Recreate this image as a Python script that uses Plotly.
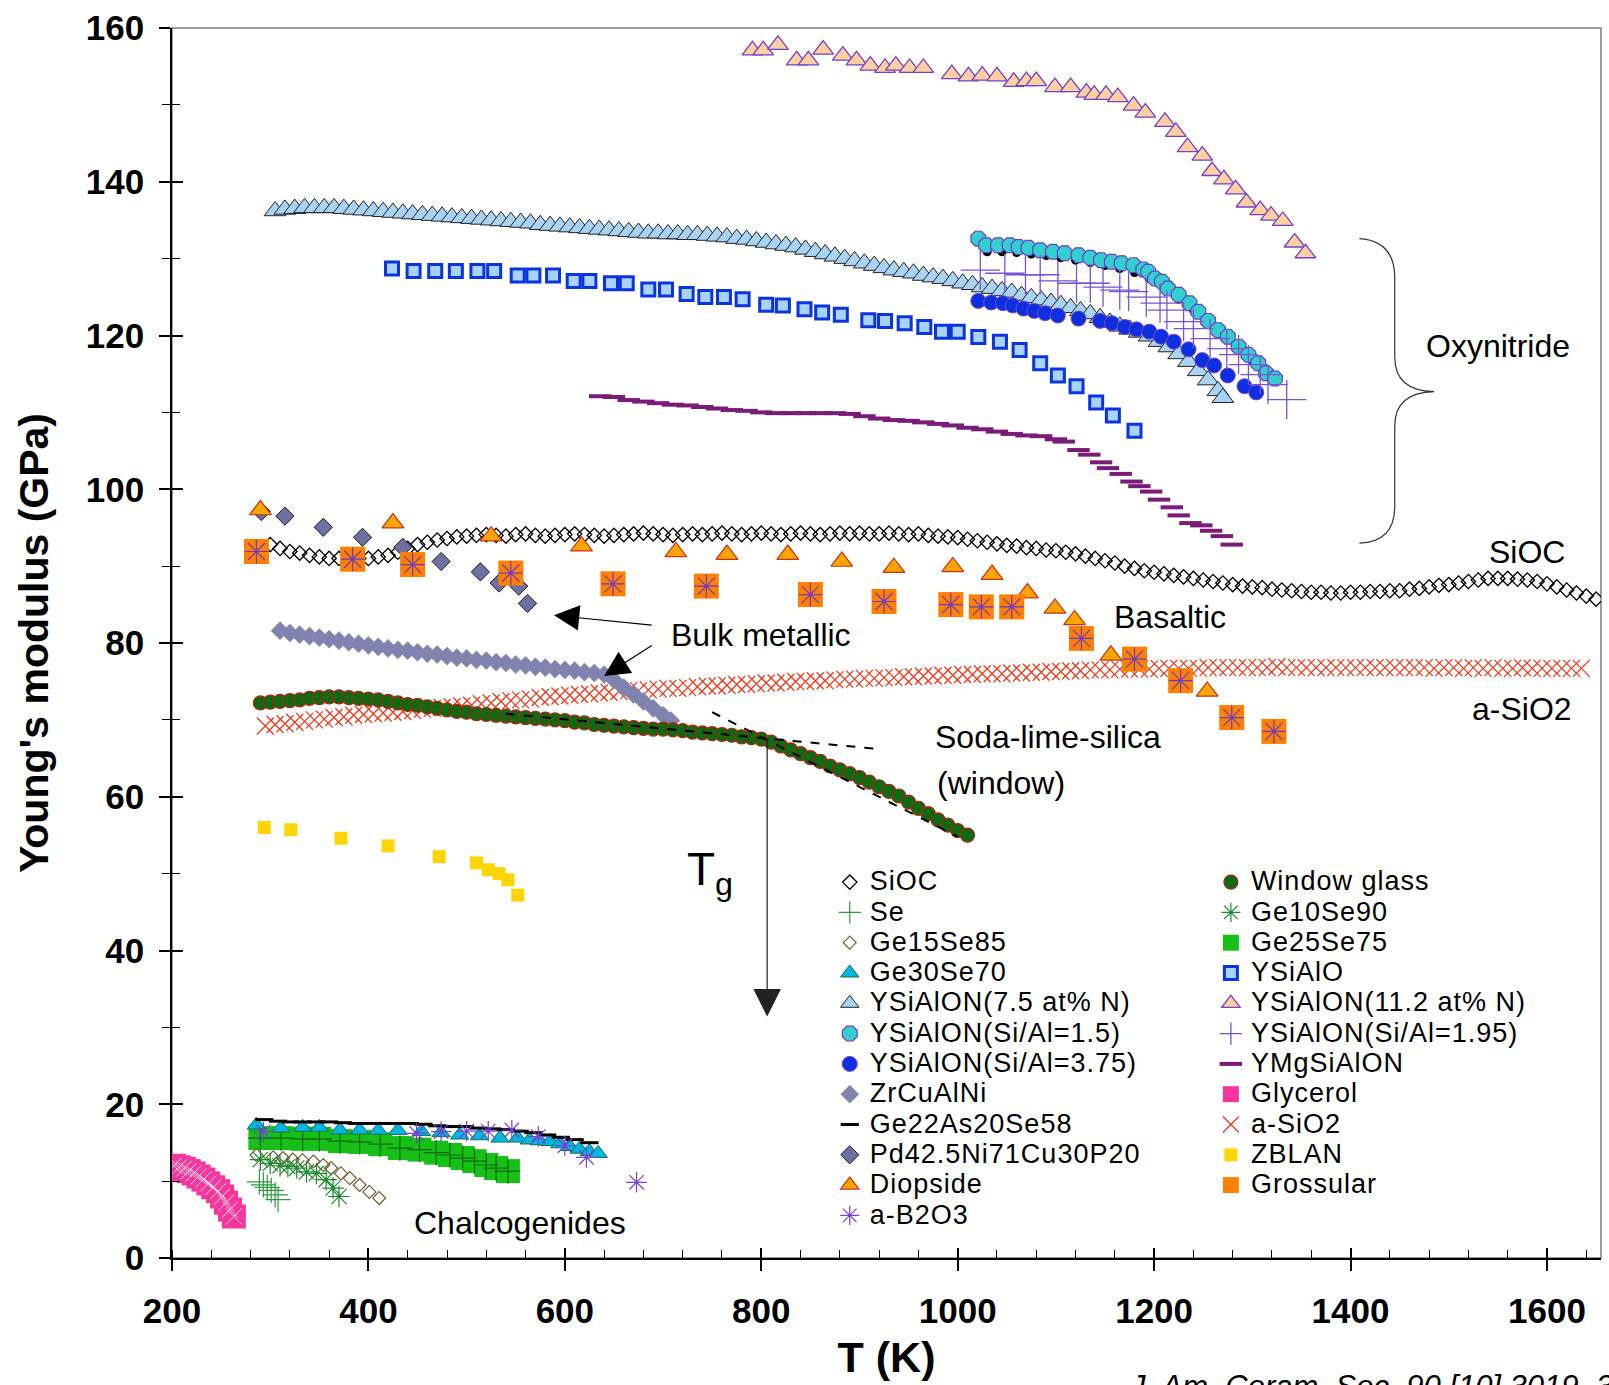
import plotly.graph_objects as go

# ---------------- data (T in K, E in GPa) ----------------
SIOC = [(300,92.8),(310,92.3),(320,91.9),(330,91.7),(340,91.4),(350,91.2),(360,91.0),(370,91.0),(380,90.9),(390,91.0),
        (400,91.0),(410,91.2),(420,91.4),(430,91.8),(440,92.3),(450,92.8),(460,93.1),(470,93.4),(480,93.6),(490,93.8),
        (500,93.9),(510,94.0),(520,94.1),(530,94.0),(540,93.9),(550,94.1),(560,94.2),(570,94.0),(580,93.9),(590,94.0),
        (600,94.1),(610,94.2),(620,94.1),(630,94.0),(640,93.9),(650,94.0),(660,94.1),(670,94.2),(680,94.3),(690,94.2),
        (700,94.1),(710,94.0),(720,94.1),(730,94.2),(740,94.1),(750,94.2),(760,94.3),(770,94.2),(780,94.1),(790,94.2),
        (800,94.3),(810,94.2),(820,94.1),(830,94.2),(840,94.3),(850,94.2),(860,94.1),(870,94.2),(880,94.3),(890,94.2),
        (900,94.3),(910,94.2),(920,94.2),(930,94.3),(940,94.2),(950,94.1),(960,94.2),(970,94.0),(980,93.9),(990,93.8),
        (1000,93.7),(1010,93.5),(1020,93.3),(1030,93.1),(1040,92.9),(1050,92.7),(1060,92.6),(1070,92.4),(1080,92.3),(1090,92.1),
        (1100,92.0),(1110,91.8),(1120,91.6),(1130,91.3),(1140,91.0),(1150,90.7),(1160,90.4),(1170,90.0),(1180,89.7),(1190,89.4),
        (1200,89.2),(1210,89.0),(1220,88.8),(1230,88.6),(1240,88.4),(1250,88.2),(1260,88.0),(1270,87.8),(1280,87.6),(1290,87.4),
        (1300,87.3),(1310,87.2),(1320,87.0),(1330,86.9),(1340,86.8),(1350,86.7),(1360,86.6),(1370,86.6),(1380,86.5),(1390,86.5),
        (1400,86.6),(1410,86.6),(1420,86.7),(1430,86.7),(1440,86.8),(1450,86.8),(1460,87.0),(1470,87.1),(1480,87.3),(1490,87.5),
        (1500,87.6),(1510,87.8),(1520,88.0),(1530,88.2),(1540,88.4),(1550,88.4),(1560,88.4),(1570,88.3),(1580,88.2),(1590,88.0),
        (1600,87.7),(1610,87.3),(1620,86.9),(1630,86.5),(1640,86.1),(1650,85.7)]

A_SIO2 = [(295,69.2),(305,69.4),(315,69.5),(325,69.7),(335,69.8),(345,70.0),(355,70.1),(365,70.3),(375,70.4),(385,70.6),
          (395,70.7),(405,70.8),(415,70.9),(425,71.0),(435,71.1),(445,71.2),(455,71.4),(465,71.5),(475,71.6),(485,71.7),
          (495,71.8),(505,71.9),(515,72.1),(525,72.2),(535,72.4),(545,72.5),(555,72.6),(565,72.7),(575,72.9),(585,73.0),
          (595,73.1),(605,73.2),(615,73.3),(625,73.4),(635,73.5),(645,73.6),(655,73.7),(665,73.8),(675,73.8),(685,73.9),
          (695,74.0),(705,74.1),(715,74.1),(725,74.2),(735,74.3),(745,74.4),(755,74.4),(765,74.5),(775,74.6),(785,74.6),
          (795,74.7),(805,74.8),(815,74.8),(825,74.9),(835,75.0),(845,75.0),(855,75.1),(865,75.1),(875,75.2),(885,75.3),
          (895,75.3),(905,75.4),(915,75.4),(925,75.5),(935,75.5),(945,75.6),(955,75.6),(965,75.7),(975,75.7),(985,75.8),
          (995,75.8),(1005,75.9),(1015,75.9),(1025,76.0),(1035,76.0),(1045,76.0),(1055,76.1),(1065,76.1),(1075,76.2),(1085,76.2),
          (1095,76.3),(1105,76.3),(1115,76.4),(1125,76.4),(1135,76.5),(1145,76.5),(1155,76.5),(1165,76.6),(1175,76.6),(1185,76.6),
          (1195,76.6),(1205,76.7),(1215,76.7),(1225,76.7),(1235,76.7),(1245,76.7),(1255,76.8),(1265,76.8),(1275,76.8),(1285,76.8),
          (1295,76.8),(1305,76.8),(1315,76.8),(1325,76.9),(1335,76.8),(1345,76.8),(1355,76.8),(1365,76.8),(1375,76.8),(1385,76.8),
          (1395,76.8),(1405,76.8),(1415,76.8),(1425,76.8),(1435,76.8),(1445,76.8),(1455,76.8),(1465,76.8),(1475,76.8),(1485,76.7),
          (1495,76.8),(1505,76.8),(1515,76.7),(1525,76.8),(1535,76.7),(1545,76.8),(1555,76.7),(1565,76.7),(1575,76.8),(1585,76.7),
          (1595,76.7),(1605,76.7),(1615,76.7),(1625,76.7),(1635,76.7)]

WINDOW_GLASS = [(290,72.2),(300,72.3),(310,72.4),(320,72.5),(330,72.6),(340,72.8),(350,72.9),(360,73.0),(370,73.0),(380,72.9),
                (390,72.8),(400,72.7),(410,72.6),(420,72.4),(430,72.2),(440,72.0),(450,71.9),(460,71.7),(470,71.5),(480,71.3),
                (490,71.1),(500,71.0),(510,70.8),(520,70.7),(530,70.6),(540,70.5),(550,70.4),(560,70.3),(570,70.2),(580,70.1),
                (590,70.0),(600,69.9),(610,69.7),(620,69.6),(630,69.4),(640,69.3),(650,69.2),(660,69.1),(670,69.0),(680,68.9),
                (690,68.8),(700,68.8),(710,68.7),(720,68.6),(730,68.4),(740,68.3),(750,68.2),(760,68.1),(770,68.0),(780,67.8),
                (790,67.7),(800,67.5),(810,67.1),(820,66.6),(830,66.1),(840,65.6),(850,65.1),(860,64.6),(870,64.0),(880,63.5),
                (890,63.0),(900,62.5),(910,61.9),(920,61.3),(930,60.7),(940,60.1),(950,59.3),(960,58.5),(970,57.8),(980,57.0),
                (990,56.3),(1000,55.6),(1010,55.0)]

GLASS_LOW_T_TANGENT = [(540,70.8),(920,66.2)]
GLASS_HIGH_T_TANGENT = [(750,71.0),(1000,54.8)]
TG = (806, 67.6, 31.4)

ZRCUALNI = [(310,81.6),(320,81.3),(330,81.1),(340,80.9),(350,80.7),(360,80.5),(370,80.3),(380,80.1),(390,79.9),(400,79.7),
            (410,79.5),(420,79.3),(430,79.1),(440,79.0),(450,78.8),(460,78.6),(470,78.5),(480,78.3),(490,78.1),(500,78.0),
            (510,77.8),(520,77.7),(530,77.5),(540,77.4),(550,77.2),(560,77.1),(570,76.9),(580,76.8),(590,76.6),(600,76.5),
            (610,76.4),(620,76.2),(630,76.1),(640,75.9),(650,75.2),(660,74.2),(670,73.3),(680,72.4),(690,71.5),(700,70.6),(708,69.9)]

PD_GLASS = [(291,97.1),(315,96.5),(354,95.05),(394,93.75),(435,92.45),(474,90.6),(514,89.25),(533,87.8),(553,87.4),(562,85.15)]

DIOPSIDE = [(290,97.3),(425,95.6),(525,93.9),(617,92.6),(713,91.85),(765,91.5),(827,91.5),(882,90.6),(935,89.8),(995,89.9),
            (1035,88.9),(1071,86.5),(1099,84.5),(1119,83.0),(1156,78.4),(1254,73.7)]

GROSSULAR = [(286,91.9),(384,90.9),(445,90.2),(545,89.1),(649,87.7),(744,87.4),(850,86.3),(925,85.4),(993,85.0),(1024,84.7),
             (1055,84.7),(1126,80.6),(1180,77.9),(1227,75.1),(1279,70.3),(1322,68.5)]

ZBLAN = [(294,56.0),(321,55.7),(372,54.6),(420,53.6),(472,52.2),(510,51.4),(522,50.5),(533,50.0),(542,49.2),(552,47.2)]

YSIALON_75N = [(305,136.2),(315,136.4),(325,136.5),(335,136.6),(345,136.6),(355,136.6),(365,136.6),(375,136.5),(385,136.4),(395,136.3),
               (405,136.2),(415,136.1),(425,136.0),(435,135.9),(445,135.8),(455,135.7),(465,135.6),(475,135.5),(485,135.4),(495,135.3),
               (505,135.2),(515,135.1),(525,135.0),(535,134.9),(545,134.8),(555,134.7),(565,134.6),(575,134.4),(585,134.3),(595,134.2),
               (605,134.1),(615,134.0),(625,133.9),(635,133.8),(645,133.7),(655,133.6),(665,133.5),(675,133.4),(685,133.3),(695,133.3),
               (705,133.2),(715,133.2),(725,133.1),(735,133.1),(745,133.0),(755,132.9),(765,132.8),(775,132.6),(785,132.5),(795,132.3),
               (805,132.1),(815,131.9),(825,131.7),(835,131.5),(845,131.2),(855,130.9),(865,130.6),(875,130.3),(885,130.0),(895,129.7),
               (905,129.4),(915,129.1),(925,128.8),(935,128.5),(945,128.3),(955,128.1),(965,127.8),(975,127.6),(985,127.4),(995,127.1),
               (1005,126.8),(1015,126.6),(1025,126.3),(1035,126.1),(1045,125.8),(1055,125.6),(1065,125.2),(1075,124.9),(1085,124.6),(1095,124.3),
               (1105,124.0),(1115,123.6),(1125,123.2),(1135,122.8),(1145,122.3),(1155,121.7),(1165,121.2),(1175,120.8),(1185,120.4),(1195,119.9),
               (1205,119.2),(1215,118.5),(1225,117.6),(1235,116.6),(1245,115.4),(1255,114.2),(1265,112.8),(1270,111.9)]

YSIALO = [(424,128.7),(446,128.4),(468,128.4),(489,128.4),(511,128.4),(528,128.4),(552,127.8),(568,127.8),(588,127.8),(609,127.1),
          (625,127.1),(647,126.8),(663,126.8),(685,126.0),(703,126.0),(724,125.4),(743,125.0),(762,125.0),(781,124.7),(805,124.0),
          (822,123.9),(844,123.4),(862,123.0),(881,122.7),(909,122.0),(926,121.9),(946,121.6),(966,121.1),(984,120.5),(1000,120.5),
          (1021,119.8),(1043,119.2),(1063,118.1),(1084,116.4),(1102,114.8),(1121,113.4),(1141,111.3),(1158,109.6),(1180,107.6)]

YSIALON_112N = [(791,157.1),(802,157.1),(817,157.8),(836,155.8),(848,155.8),(863,157.2),(883,156.4),(897,155.8),(911,155.1),(926,154.8),
                (937,155.1),(951,154.8),(965,154.8),(994,154.0),(1011,153.7),(1025,153.8),(1040,153.7),(1057,153.0),(1070,153.1),(1080,153.1),
                (1099,152.3),(1115,152.3),(1131,151.6),(1139,151.3),(1151,151.3),(1163,151.0),(1179,149.9),(1191,149.0),(1211,147.8),(1222,146.5),
                (1234,144.5),(1249,143.4),(1259,141.4),(1271,140.3),(1283,139.0),(1294,137.3),(1308,136.3),(1319,135.6),(1331,134.9),(1343,132.1),
                (1354,130.7)]

YSIALON_SIAL15 = [(1021,132.6),(1029,131.75),(1041,131.75),(1053,131.75),(1062,131.5),(1072,131.4),(1084,131.1),(1097,130.9),(1109,130.7),(1123,130.45),
                  (1135,130.1),(1146,129.8),(1157,129.6),(1167,129.4),(1179,129.15),(1189,128.6),(1194,128.3),(1201,127.4),(1208,127.0),(1214,126.1),
                  (1225,125.3),(1236,124.2),(1245,123.1),(1255,121.9),(1265,120.7),(1275,119.85),(1286,118.55),(1296,117.5),(1306,116.4),(1314,115.1),
                  (1323,114.4)]

# dark under-layer of points seen beneath the Si/Al=1.5 curve (unlabelled in the legend)
SIAL15_SHADOW = [(1030,130.9),(1045,130.9),(1060,130.8),(1075,130.6),(1090,130.4),(1105,130.1),(1120,129.8),(1135,129.5),(1150,129.1),(1165,128.7),
                 (1180,128.2),(1195,127.4),(1210,126.2),(1225,124.7),(1240,123.3),(1255,121.6),(1270,120.0),(1285,118.4),(1300,116.7),(1315,115.0),
                 (1322,114.0)]

YSIALON_SIAL375 = [(1021,124.5),(1034,124.3),(1046,124.2),(1056,123.9),(1067,123.5),(1078,123.2),(1089,122.9),(1102,122.6),(1123,122.2),(1145,121.9),
                   (1157,121.6),(1170,121.1),(1182,120.8),(1195,120.5),(1207,119.85),(1220,119.2),(1235,118.2),(1249,116.8),(1261,116.1),(1275,114.8),
                   (1292,113.4),(1304,112.6)]

YSIALON_SIAL195 = [(1023,128.5),(1048,128.1),(1069,127.9),(1084,127.9),(1102,127.1),(1121,126.8),(1135,126.8),(1148,126.3),(1165,125.9),(1174,125.7),
                   (1192,125.0),(1206,124.2),(1213,123.3),(1230,121.8),(1240,120.9),(1257,119.6),(1274,118.3),(1286,117.5),(1296,116.2),(1308,114.9),
                   (1316,113.6),(1335,111.65)]

YMGSIALON = [(636,112.1),(650,112.0),(665,111.6),(680,111.4),(695,111.2),(710,111.0),(725,110.9),(740,110.7),(755,110.5),(770,110.3),
             (785,110.2),(800,110.0),(815,109.9),(830,109.9),(845,109.9),(860,109.9),(875,109.9),(890,109.8),(905,109.5),(920,109.2),
             (935,109.0),(950,108.9),(965,108.7),(980,108.5),(995,108.3),(1010,108.0),(1025,107.8),(1040,107.5),(1055,107.2),(1070,107.0),
             (1085,106.9),(1100,106.5),(1108,106.2),(1123,105.1),(1134,104.5),(1146,103.5),(1153,102.75),(1166,102.0),(1177,101.0),(1185,100.4),
             (1197,99.7),(1205,98.65),(1218,97.65),(1225,96.6),(1237,95.6),(1248,95.3),(1258,94.6),(1269,93.9),(1279,92.8)]

SE = [(289,9.9),(293,9.5),(297,9.2),(301,8.8),(305,8.2),(308,7.6)]
GE10SE90 = [(290,12.8),(300,12.3),(310,12.0),(318,11.9),(327,11.7),(337,11.2),(347,11.0),(357,10.2),(364,9.1),(370,8.0)]
GE15SE85 = [(286,13.4),(303,13.1),(313,13.0),(323,12.8),(333,12.7),(344,12.55),(354,12.1),(362,11.7),(372,11.0),(381,10.4),
            (391,9.5),(401,8.6),(411,7.8)]
GE25SE75 = [(290,15.6),(311,15.6),(333,15.5),(350,15.5),(371,15.2),(391,15.1),(412,14.8),(432,14.3),(452,14.1),(469,13.7),
            (483,13.4),(496,13.0),(508,12.6),(520,12.1),(530,11.7),(542,11.3)]
GE30SE70 = [(286,17.3),(311,16.9),(333,17.0),(350,17.0),(371,16.65),(391,16.65),(410,16.6),(430,16.6),(454,16.45),(474,16.3),
            (493,16.0),(513,15.9),(534,15.6),(552,15.6),(564,15.35),(574,15.25),(585,15.15),(595,14.85),(605,14.5),(615,14.15),
            (625,13.85),(634,13.6)]
GE22AS20SE58 = [(294,18.0),(308,17.8),(320,17.7),(333,17.7),(347,17.7),(360,17.7),(374,17.6),(388,17.5),(401,17.5),(415,17.5),
                (428,17.5),(442,17.5),(456,17.4),(470,17.2),(484,17.1),(498,17.1),(512,16.9),(526,16.8),(540,16.7),(554,16.5),
                (568,16.3),(582,16.0),(596,15.7),(610,15.4),(625,15.0)]
A_B2O3 = [(293,16.4),(449,16.2),(474,16.45),(500,16.5),(522,16.5),(546,16.65),(573,15.8),(600,14.6),(622,13.1),(673,9.85)]
GLYCEROL = [(202,12.0),(207,11.8),(212,11.6),(217,11.3),(222,11.0),(227,10.6),(232,10.2),(237,9.7),(242,9.2),(247,8.7),
            (251,8.0),(255,7.2),(259,6.3),(263,5.4)]

X_TICKS = [200, 400, 600, 800, 1000, 1200, 1400, 1600]
Y_TICKS = [0, 20, 40, 60, 80, 100, 120, 140, 160]

# ---------------- figure ----------------
FONT = "Liberation Sans, Arial, sans-serif"
fig = go.Figure()


def xs(d):
    return [p[0] for p in d]


def ys(d):
    return [p[1] for p in d]


def lname(s):
    return '<span style="font-size:27px;letter-spacing:1px">' + s + '</span>'


def add(data, name, symbol, size, fill, line_color=None, line_width=1.0,
        legend=None, rank=1000, showlegend=True):
    lc = line_color if line_color is not None else fill
    fig.add_trace(go.Scatter(
        x=xs(data), y=ys(data), mode="markers",
        name=lname(name) if showlegend else name,
        showlegend=showlegend, legend=legend or "legend", legendrank=rank,
        marker=dict(symbol=symbol, size=size, color=fill,
                    line=dict(color=lc, width=line_width)),
        hoverinfo="x+y+name"))


# bottom-most layers
add(A_SIO2, "a-SiO2", "x-thin-open", 17, "#ee3a1c", line_width=1.3, legend="legend2", rank=9)
add(SIOC, "SiOC", "diamond-open", 11, "#000000", line_width=1.3, legend="legend", rank=1)
add(ZRCUALNI, "ZrCuAlNi", "diamond", 14, "#7f83ad", line_color="#8c8fb5", line_width=0.5, legend="legend", rank=8)
add(WINDOW_GLASS, "Window glass", "circle", 14, "#0b6a12", line_color="#b4200e", line_width=1.2, legend="legend2", rank=1)

for seg in (GLASS_LOW_T_TANGENT, GLASS_HIGH_T_TANGENT):
    fig.add_trace(go.Scatter(x=xs(seg), y=ys(seg), mode="lines", showlegend=False,
                             line=dict(color="black", width=2, dash="dash"), hoverinfo="skip"))

add(PD_GLASS, "Pd42.5Ni71Cu30P20", "diamond", 14, "#6d70a0", line_color="#1a1a2a", line_width=1, legend="legend", rank=10)
add(DIOPSIDE, "Diopside", "triangle-up", 19, "#ffa500", line_color="#c8321e", line_width=1.2, legend="legend", rank=11)
add(GROSSULAR, "Grossular", "square", 25, "#ff7f00", line_color="#ff7f00", line_width=0, legend="legend2", rank=11)
add(GROSSULAR, "Grossular star", "asterisk-open", 20, "#6a3cc8", line_width=1.2, showlegend=False)
add(ZBLAN, "ZBLAN", "square", 13, "#ffd400", line_width=0, legend="legend2", rank=10)

add(YMGSIALON, "YMgSiAlON", "line-ew-open", 16, "#7b1b78", line_width=4, legend="legend2", rank=7)
add(YSIALON_75N, "YSiAlON(7.5 at% N)", "triangle-up", 19, "#a9d3f5", line_color="#222222", line_width=1, legend="legend", rank=5)
add(YSIALO, "YSiAlO", "square", 13, "#a8d2ff", line_color="#0a34e0", line_width=3, legend="legend2", rank=4)
add(YSIALON_SIAL375, "YSiAlON(Si/Al=3.75)", "circle", 15, "#0c2fe0", line_color="#7a46c8", line_width=1, legend="legend", rank=7)
add(SIAL15_SHADOW, "black points", "circle", 9, "#000000", line_width=0, showlegend=False)
add(YSIALON_SIAL15, "YSiAlON(Si/Al=1.5)", "octagon", 16, "#33cfcf", line_color="#6a3cc8", line_width=1.2, legend="legend", rank=6)
add(YSIALON_SIAL195, "YSiAlON(Si/Al=1.95)", "cross-thin-open", 28, "#7b52d0", line_width=1.3, legend="legend2", rank=6)
add(YSIALON_112N, "YSiAlON(11.2 at% N)", "triangle-up", 18, "#ffcf9f", line_color="#7240cc", line_width=1.3, legend="legend2", rank=5)

add(GE25SE75, "Ge25Se75", "square", 24, "#17c017", line_width=0, legend="legend2", rank=3)
add(GE25SE75, "Ge25Se75 cross", "cross-thin-open", 18, "#0b6a0b", line_width=1.2, showlegend=False)
add(GE15SE85, "Ge15Se85", "diamond-open", 10, "#6e6030", line_width=1.2, legend="legend", rank=3)
add(GE10SE90, "Ge10Se90", "asterisk-open", 18, "#1d8a2e", line_width=1.2, legend="legend2", rank=2)
add(SE, "Se", "cross-thin-open", 18, "#2f9a3f", line_width=1.2, legend="legend", rank=2)
add(GE30SE70, "Ge30Se70", "triangle-up", 16, "#00b6e2", line_color="#15704a", line_width=1, legend="legend", rank=4)
add(GE22AS20SE58, "Ge22As20Se58", "line-ew-open", 13, "#000000", line_width=3, legend="legend", rank=9)
add(A_B2O3, "a-B2O3", "asterisk-open", 17, "#7b3fd8", line_width=1.2, legend="legend", rank=12)
add(GLYCEROL, "Glycerol", "square", 24, "#f7369d", line_width=0, legend="legend2", rank=8)
add(GLYCEROL, "Glycerol x", "x-thin-open", 16, "#ffd6e8", line_width=1, showlegend=False)

# overlay axes only carry the inner half of the crossing tick marks
fig.add_trace(go.Scatter(x=[], y=[], xaxis="x2", yaxis="y2", showlegend=False, hoverinfo="skip"))

# ---------------- annotations ----------------
txt = dict(size=32, family=FONT, color="black")
labels = [
    ("Oxynitride", 1550, 118.6),
    ("SiOC", 1580, 91.8),
    ("Basaltic", 1216, 83.4),
    ("Bulk metallic", 800, 81.1),
    ("a-SiO2", 1575, 71.4),
    ("Soda-lime-silica", 1092, 67.8),
    ("(window)", 1044, 61.8),
    ("Chalcogenides", 554, 4.5),
]
for t, x, y in labels:
    fig.add_annotation(x=x, y=y, xref="x", yref="y", text=t, showarrow=False, font=txt)

fig.add_annotation(x=748, y=50.2, xref="x", yref="y", text="T<sub>g</sub>", showarrow=False,
                   font=dict(size=46, family=FONT, color="black"))

# arrows
fig.add_annotation(x=589, y=83.6, ax=690, ay=82.3, xref="x", yref="y", axref="x", ayref="y",
                   text="", showarrow=True, arrowhead=2, arrowsize=4.2, arrowwidth=1.2, arrowcolor="black")
fig.add_annotation(x=640, y=75.7, ax=690, ay=79.8, xref="x", yref="y", axref="x", ayref="y",
                   text="", showarrow=True, arrowhead=2, arrowsize=4.2, arrowwidth=1.2, arrowcolor="black")
fig.add_annotation(x=TG[0], y=TG[2], ax=TG[0], ay=TG[1], xref="x", yref="y", axref="x", ayref="y",
                   text="", showarrow=True, arrowhead=2, arrowsize=4.6, arrowwidth=1.2, arrowcolor="#222222")

# citation (partly cut at the bottom edge, as in the source figure)
fig.add_annotation(x=0.668, y=-0.089, xref="paper", yref="paper", xanchor="left", yanchor="top",
                   text="<i>J. Am. Ceram. Soc. 90 [10] 3019–3039 (2007)</i>", showarrow=False,
                   font=dict(size=31, family=FONT, color="black"))

# brace around the oxynitrides
fig.add_shape(type="path", xref="x", yref="y",
              path="M 1409,132.6 Q 1445,132.3 1445,127.5 L 1445,117.2 Q 1445,112.8 1485,112.7 "
                   "Q 1445,112.6 1445,108.2 L 1445,97.8 Q 1445,93.1 1409,93.0",
              line=dict(color="#333333", width=1.2))

# gray frame on top / right
fig.add_shape(type="rect", xref="paper", yref="paper", x0=0, x1=1, y0=0, y1=1,
              line=dict(color="#7f7f7f", width=1.5), layer="below")

tickfont = dict(size=35, family=FONT, color="black", weight="bold")
fig.update_layout(
    width=1609, height=1385,
    margin=dict(l=172, r=8, t=26, b=127),
    paper_bgcolor="white", plot_bgcolor="white",
    font=dict(family=FONT, color="black"),
    showlegend=True,
    xaxis=dict(range=[200, 1655], tickvals=X_TICKS, ticks="outside", ticklen=11, tickwidth=1.5,
               tickcolor="black", showline=True, linecolor="black", linewidth=1.5,
               showgrid=False, zeroline=False, tickfont=tickfont, ticklabelstandoff=10,
               minor=dict(dtick=40, tick0=200, ticks="inside", ticklen=8, tickwidth=1.2,
                          tickcolor="black", showgrid=False),
               title=dict(text="T (K)", font=dict(size=43, family=FONT, weight="bold"), standoff=13)),
    yaxis=dict(range=[0, 160], tickvals=Y_TICKS, ticks="outside", ticklen=11, tickwidth=1.5,
               tickcolor="black", showline=True, linecolor="black", linewidth=1.5,
               showgrid=False, zeroline=False, tickfont=tickfont, ticklabelstandoff=8,
               minor=dict(dtick=10, tick0=0, ticks="outside", ticklen=8, tickwidth=1.2,
                          tickcolor="black", showgrid=False),
               title=dict(text="Young's modulus (GPa)", font=dict(size=41, family=FONT, weight="bold"),
                          standoff=24)),
    xaxis2=dict(overlaying="x", anchor="y2", side="bottom", range=[200, 1655], tickvals=X_TICKS,
                ticks="inside", ticklen=10, tickwidth=1.5, tickcolor="black",
                showticklabels=False, showline=False, showgrid=False, zeroline=False),
    yaxis2=dict(overlaying="y", anchor="x2", side="left", range=[0, 160], tickvals=Y_TICKS,
                ticks="inside", ticklen=11, tickwidth=1.5, tickcolor="black",
                showticklabels=False, showline=False, showgrid=False, zeroline=False,
                minor=dict(dtick=10, tick0=0, ticks="inside", ticklen=8, tickwidth=1.2,
                           tickcolor="black", showgrid=False)),
    legend=dict(x=0.4603, y=0.322, xanchor="left", yanchor="top", bgcolor="rgba(0,0,0,0)",
                font=dict(size=21, family=FONT, color="black"), traceorder="normal"),
    legend2=dict(x=0.727, y=0.322, xanchor="left", yanchor="top", bgcolor="rgba(0,0,0,0)",
                 font=dict(size=21, family=FONT, color="black"), traceorder="normal"),
    hovermode="closest",
)

fig.write_html("out.html", config={"displayModeBar": False},
               post_script="document.body.style.margin='0';document.body.style.overflow='hidden';")
